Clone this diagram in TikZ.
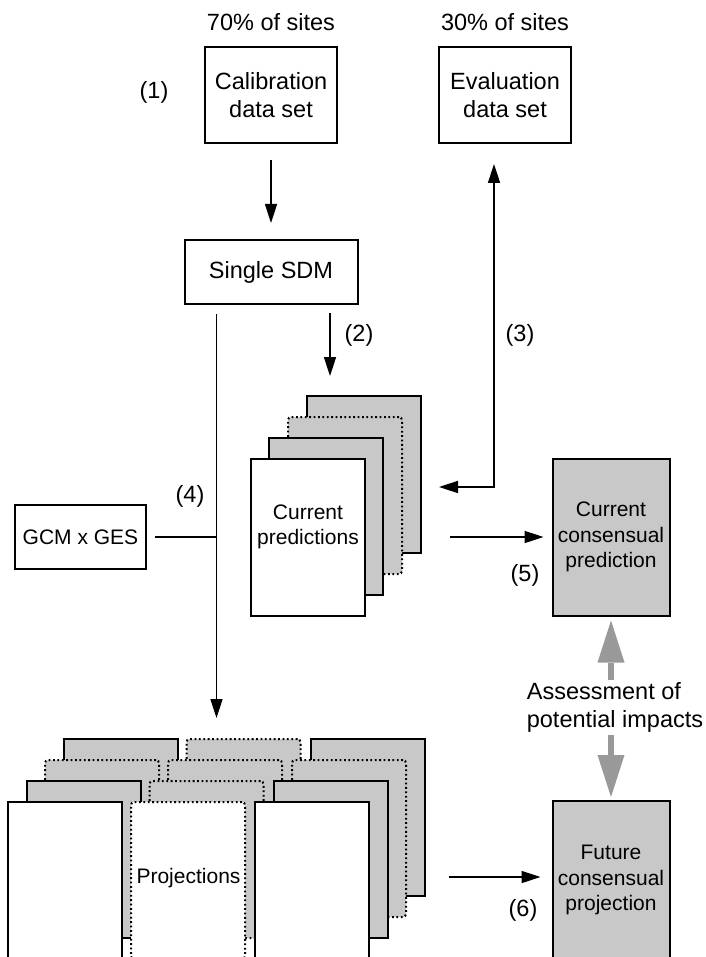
\documentclass[tikz,border=0pt]{standalone}
\usepackage{fontspec}
\setmainfont{Liberation Sans}
\usetikzlibrary{arrows.meta,calc}

\definecolor{pagegray}{RGB}{200,200,200}
\definecolor{arrowgray}{RGB}{153,153,153}

\begin{document}
\begin{tikzpicture}[x=1pt,y=-1pt,
  bigtxt/.style={font=\fontsize{23.5}{28.2}\selectfont},
  smalltxt/.style={font=\fontsize{21}{25.3}\selectfont},
  box/.style={draw, line width=2pt, inner sep=0pt, align=center},
  pagebox/.style={draw, line width=2pt, minimum width=114pt, minimum height=157pt, inner sep=0pt},
  solidpage/.style={pagebox, fill=pagegray},
  dotpage/.style={pagebox, fill=pagegray, rounded corners=3pt, dash pattern=on 1.8pt off 2.6pt},
  frontpage/.style={pagebox, fill=white},
  frontdot/.style={dotpage, fill=white},
  arr/.style={line width=1.6pt, -{Triangle[length=19pt,width=12pt]}},
  biarr/.style={line width=1.6pt, {Triangle[length=19pt,width=12pt]}-{Triangle[length=19pt,width=12pt]}},
  garr/.style={draw=arrowgray, line width=6pt, -{Triangle[length=42pt,width=27pt,line width=0pt]}},
]
\useasboundingbox (0,0) rectangle (705,957);
\clip (0,0) rectangle (705,957);
\fill[white] (0,0) rectangle (705,957);

% data sets and model
\node[bigtxt] (p70) at (271,22) {70\% of sites};
\node[bigtxt] (p30) at (505,22) {30\% of sites};
\node[bigtxt] (n1) at (154,92) {(1)};
\node[box,bigtxt,minimum width=132pt,minimum height=96pt] (calib) at (271,95) {Calibration\\data set};
\node[box,bigtxt,minimum width=132pt,minimum height=96pt] (eval) at (505,95) {Evaluation\\data set};
\node[box,bigtxt,minimum width=173pt,minimum height=64pt] (sdm) at (271,272) {Single SDM};
\node[bigtxt] (n2) at (359,335) {(2)};
\node[bigtxt] (n3) at (520,335) {(3)};
\node[box,smalltxt,minimum width=131pt,minimum height=64pt] (gcm) at (80.5,537) {GCM x GES};
\node[bigtxt] (n4) at (190,496) {(4)};

% stack of current predictions (back to front)
\node[solidpage] (cp4) at (364,474.5) {};
\node[dotpage]   (cp3) at (345,495.5) {};
\node[solidpage] (cp2) at (326,516.5) {};
\node[frontpage] (cp1) at (308,537.5) {};
\node[smalltxt, align=center] (cptxt) at (308,527) {Current\\predictions};

% three stacks of projections, drawn layer by layer from the back
\node[solidpage] (pl4) at (120.5,817.5) {};
\node[dotpage]   (pm4) at (243.5,817.5) {};
\node[solidpage] (pr4) at (367.5,817.5) {};
\node[dotpage]   (pl3) at (102,838.5) {};
\node[dotpage]   (pm3) at (225,838.5) {};
\node[dotpage]   (pr3) at (349,838.5) {};
\node[solidpage] (pl2) at (83.5,859.5) {};
\node[dotpage]   (pm2) at (206.5,859.5) {};
\node[solidpage] (pr2) at (330.5,859.5) {};
\node[frontpage] (pl1) at (65,880.5) {};
\node[frontdot]  (pm1) at (188,880.5) {};
\node[frontpage] (pr1) at (312,880.5) {};
\node[smalltxt] (prtxt) at (188.5,878) {Projections};

% consensus boxes
\node[box,smalltxt,fill=pagegray,minimum width=117pt,minimum height=157pt] (ccons) at (611,537) {Current\\consensual\\prediction};
\node[bigtxt] (n5) at (525,575) {(5)};
\node[bigtxt, align=left] (assess) at (615,707.5) {Assessment of\\potential impacts};
\node[box,smalltxt,fill=pagegray,minimum width=117pt,minimum height=158pt] (fcons) at (611,880) {Future\\consensual\\projection};
\node[bigtxt] (n6) at (523,910) {(6)};

% helper points for the connectors
\coordinate (s2) at ([xshift=59pt]sdm.south);
\coordinate (s4) at ([xshift=-54.5pt]sdm.south);
\coordinate (bend) at (494,487);
\coordinate (f6) at ([yshift=3pt]fcons.west);
\coordinate (ga) at (611,680);
\coordinate (gb) at (611,735);

% connectors
\draw[arr, shorten <=16pt, shorten >=16pt] (calib.south) -- (sdm.north);
\draw[arr, shorten <=8pt, shorten >=19pt] (s2) -- (s2 |- cp4.north);
\draw[arr, shorten <=9pt, shorten >=20pt] (s4) -- (s4 |- pm4.north);
\draw[line width=1.6pt, shorten <=8pt] (gcm.east) -- (gcm.east -| s4);
\draw[biarr, shorten <=20pt, shorten >=17pt] (bend |- eval.south) -- (bend) -- (bend -| cp4.east);
\draw[arr, shorten <=28pt, shorten >=8pt] (ccons.west -| cp4.east) -- (ccons.west);
\draw[arr, shorten <=23pt, shorten >=11pt] (f6 -| pr4.east) -- (f6);
\draw[garr, shorten >=4pt] (ga) -- (ccons.south);
\draw[garr, shorten >=3pt] (gb) -- (fcons.north);
\end{tikzpicture}
\end{document}
